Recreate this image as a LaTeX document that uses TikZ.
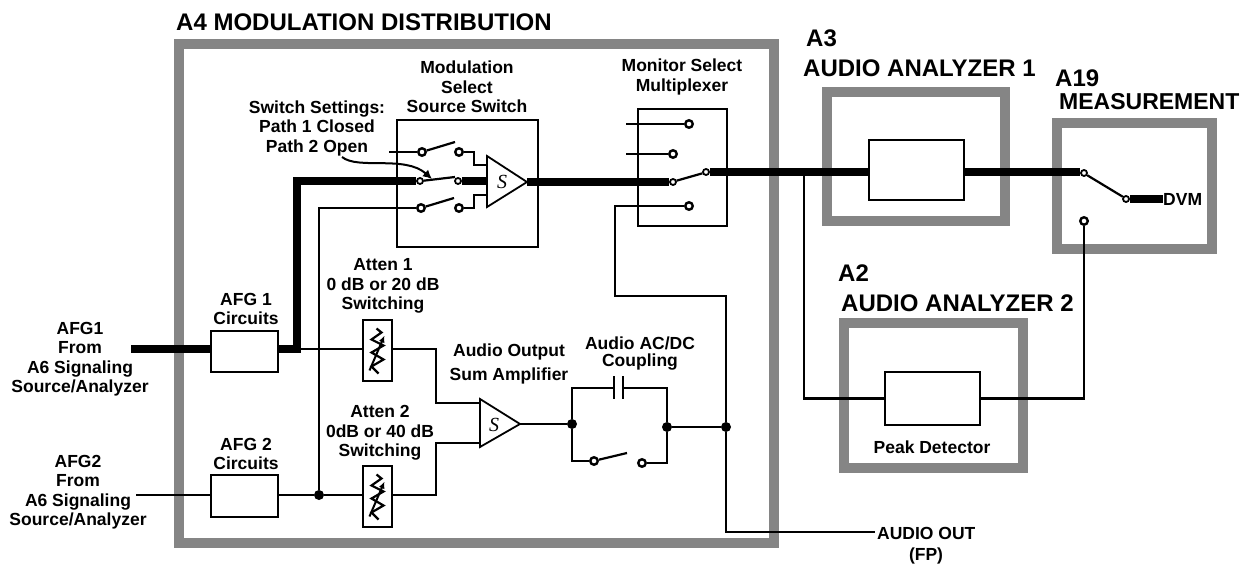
\documentclass[tikz,border=0pt]{standalone}
\usepackage{fontspec}
\setmainfont{Liberation Sans}
\newfontfamily\serifit{Liberation Serif}
\usetikzlibrary{calc,arrows.meta}
\definecolor{band}{HTML}{858585}
\tikzset{
  lab/.style={font=\bfseries\fontsize{17.5}{19.5}\selectfont,align=center,inner sep=0pt,text=black},
  big/.style={font=\bfseries\fontsize{24}{24}\selectfont,align=left,inner sep=0pt,anchor=west,text=black},
  frame/.style={draw=band,line width=10pt,inner sep=0pt,fill=none},
  blockbox/.style={draw=black,line width=2.2pt,inner sep=0pt,fill=none},
  wirethin/.style={draw=black,line width=2.2pt,line join=miter},
  wirethick/.style={draw=black,line width=7.5pt,line join=miter},
  contact/.style={circle,draw=black,fill=white,line width=2.4pt,minimum size=7.5pt,inner sep=0pt},
  smallcontact/.style={circle,draw=black,fill=white,line width=1.8pt,minimum size=6pt,inner sep=0pt},
  dotn/.style={circle,fill=black,minimum size=10pt,inner sep=0pt},
  amp/.style={draw=black,line width=1.8pt,fill=white,line join=miter},
  ampt/.style={font=\serifit\itshape\fontsize{20}{20}\selectfont,inner sep=0pt},
}
\begin{document}
\begin{tikzpicture}[x=1pt,y=-1pt]
\useasboundingbox (0,0) rectangle (1245,569);
% frames
\node[frame,minimum width=595pt,minimum height=499pt] (a4) at (476.5,293.5) {};
\node[frame,minimum width=178pt,minimum height=129pt] (a3) at (916,156.5) {};
\node[frame,minimum width=155pt,minimum height=126pt] (a19) at (1134.5,186) {};
\node[frame,minimum width=179pt,minimum height=145pt] (a2) at (933.5,395.5) {};
% big labels
\node[big] (ta4) at (176,22) {A4 MODULATION DISTRIBUTION};
\node[big] (ta3a) at (806,38) {A3};
\node[big] (ta3b) at (803,68) {AUDIO ANALYZER 1};
\node[big] (ta19a) at (1055,78) {A19};
\node[big,font=\bfseries\fontsize{23}{23}\selectfont] (ta19b) at (1059,102) {MEASUREMENT};
\node[big] (ta2a) at (838,273) {A2};
\node[big] (ta2b) at (841,303) {AUDIO ANALYZER 2};
% boxes
\node[blockbox,minimum width=141pt,minimum height=127pt] (msw) at (467.5,183.5) {};
\node[blockbox,minimum width=89pt,minimum height=117pt] (mux) at (682.5,167.5) {};
\node[blockbox,minimum width=95pt,minimum height=60pt] (an1) at (916.5,170) {};
\node[blockbox,minimum width=95pt,minimum height=53pt] (pk) at (932.5,398.5) {};
\node[blockbox,minimum width=67pt,minimum height=41pt] (afg1) at (244.5,351.5) {};
\node[blockbox,minimum width=67pt,minimum height=42pt] (afg2) at (244.5,496) {};
\node[blockbox,minimum width=29pt,minimum height=61pt] (at1) at (377.5,350.5) {};
\node[blockbox,minimum width=29pt,minimum height=61pt] (at2) at (377.5,496.5) {};
% free ends and bends
\coordinate (afg1in) at (131,349);
\coordinate (afg2in) at (136,495);
\coordinate (bend1) at (297,349);
\coordinate (bend1t) at (297,181);
\coordinate (t1) at (389,152);
\coordinate (mt) at (626,124);
\coordinate (mm) at (626,154);
\coordinate (audio) at (875,532);
\coordinate (m1) at (615,206);
\coordinate (m2) at (615,296);
\coordinate (m3) at (726,296);
\coordinate (br) at (804,172);
% contacts
\node[contact] (s1a) at (422,152) {};
\node[contact] (s1b) at (459,152) {};
\node[smallcontact] (s2a) at (420,181) {};
\node[smallcontact] (s2b) at (458,181) {};
\node[contact] (s3a) at (421,208) {};
\node[contact] (s3b) at (459,208) {};
\node[contact] (x1) at (689,124) {};
\node[contact] (x2) at (673,154) {};
\node[smallcontact] (x3) at (673,182) {};
\node[contact] (x4) at (689,206) {};
\node[smallcontact] (xo) at (706,172) {};
\node[smallcontact] (d1) at (1084,173) {};
\node[smallcontact] (d2) at (1126,199) {};
\node[contact] (d3) at (1084,221) {};
\node[contact] (c1) at (594,461) {};
\node[contact] (c2) at (642,463) {};
\node[dotn] (n1) at (319,495) {};
\node[dotn] (n2) at (572,424) {};
\node[dotn] (n3) at (667,427) {};
\node[dotn] (n4) at (726,427) {};
\node[lab,anchor=west] (dvm) at (1163,199) {DVM};
\node[lab,anchor=west] (aout) at (877,533) {AUDIO OUT};
\node[lab] (fp) at (926,556) {(FP)};
% amplifier corners
\coordinate (ampA1) at (487,156); \coordinate (ampA2) at (487,207); \coordinate (ampA3) at (527,182);
\coordinate (ampB1) at (480,399); \coordinate (ampB2) at (480,447); \coordinate (ampB3) at (520,424);
% thick wires
\draw[wirethick] (afg1in) -- (afg1.west |- afg1in);
\draw[wirethick] (afg1.east |- afg1in) -- (bend1) -- (bend1t) -- (s2a.west);
\draw[wirethick] (s2b.east) -- (ampA1 |- s2b);
\draw[wirethick] (ampA3) -- (x3.west |- ampA3);
\draw[wirethick] (xo.east) -- (an1.west |- xo);
\draw[wirethick] (an1.east |- xo) -- (d1.west |- xo);
\draw[wirethick] (d2.east) -- (dvm.west);
% thin wires
\draw[wirethin] (t1) -- (s1a.west);
\draw[wirethin] (s1a.17) -- (455,142);
\draw[wirethin] (s2a.5) -- (455,177);
\draw[wirethin] (s3a.17) -- (454,198);
\draw[wirethin] (s1b.east) -- (474,152) -- (474,165) -- (487,165);
\draw[wirethin] (s3b.east) -- (474,208) -- (474,195) -- (487,195);
\draw[wirethin] (n1) |- (s3a.west);
\draw[wirethin] (afg2in) -- (afg2.west |- afg2in);
\draw[wirethin] (afg2.east |- afg2in) -- (n1) -- (at2.west |- n1);
\draw[wirethin] (bend1) -- (at1.west |- bend1);
\draw[wirethin] (at1.east |- bend1) -- (436,349) -- (436,403) -- (480,403);
\draw[wirethin] (at2.east |- n1) -- (436,495) -- (436,443) -- (480,443);
\draw[wirethin] (ampB3) -- (n2);
\draw[wirethin] (n2) -- (572,388) -- (614,388);
\draw[wirethin] (623,388) -- (667,388) -- (n3);
\draw[line width=2.4pt] (614,376) -- (614,399) (623,376) -- (623,399);
\draw[wirethin] (n2) -- (572,461) -- (c1.west);
\draw[wirethin] (c1.15) -- (627,453);
\draw[wirethin] (c2.east) -- (667,463) -- (n3);
\draw[wirethin] (n3) -- (n4);
\draw[wirethin] (mt) -- (x1.west);
\draw[wirethin] (mm) -- (x2.west);
\draw[wirethin] (x3.20) -- (xo.200);
\draw[wirethin] (x4.west) -- (m1) -- (m2) -- (m3) -- (n4) -- (726,532) -- (audio);
\draw[wirethin] (br) |- (pk.west);
\draw[wirethin] (pk.east) -| (d3.south);
\draw[wirethin] (d1.-35) -- (d2.145);
% amplifiers
\draw[amp] (ampA1) -- (ampA3) -- (ampA2) -- cycle;
\draw[amp] (ampB1) -- (ampB3) -- (ampB2) -- cycle;
\node[ampt] (sa) at (502,182) {S};
\node[ampt] (sb) at (494,425) {S};
% resistors
\foreach \n in {at1,at2}{
  \draw[line width=2.2pt,line join=miter] ($(\n.center)+(-1,-22)$) -- ++(5,4) -- ++(-10,7) -- ++(12,6) -- ++(-12,7) -- ++(12,7) -- ++(-12,7) -- ++(7,7);
  \draw[line width=2pt,-{Latex[length=7pt,width=6pt]}] ($(\n.center)+(-8,20)$) -- ($(\n.center)+(7,-15)$);
}
% switch-setting pointer
\draw[line width=2pt,-{Latex[length=9pt,width=9pt]}] (342,157) .. controls (358,170) and (405,155) .. (432,179);
% small labels
\node[lab] (l1) at (467,87) {Modulation\\Select\\Source Switch};
\node[lab] (l2) at (317,128) {Switch Settings:\\Path 1 Closed\\Path 2 Open};
\node[lab] (l3) at (682,77) {Monitor Select\\Multiplexer};
\node[lab] (l4) at (246,309) {AFG 1\\Circuits};
\node[lab] (l5) at (246,454) {AFG 2\\Circuits};
\node[lab] (l6) at (383,286) {Atten 1\\0 dB or 20 dB\\Switching};
\node[lab] (l7) at (380,433) {Atten 2\\0dB or 40 dB\\Switching};
\node[lab] (l8) at (509,364) {Audio Output\\[4pt]Sum Amplifier};
\node[lab,font=\bfseries\fontsize{17.5}{17}\selectfont] (l9) at (640,354) {Audio AC/DC\\Coupling};
\node[lab] (l10) at (80,359) {AFG1\\From\\A6 Signaling\\Source/Analyzer};
\node[lab] (l11) at (78,492) {AFG2\\From\\A6 Signaling\\Source/Analyzer};
\node[lab] (l12) at (932,447) {Peak Detector};
\end{tikzpicture}
\end{document}
